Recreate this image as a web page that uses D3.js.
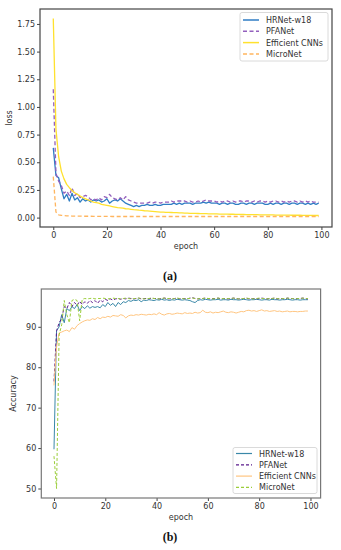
<!DOCTYPE html>
<html><head><meta charset="utf-8">
<script src="https://cdn.jsdelivr.net/npm/d3@7"></script>
<style>
html,body{margin:0;padding:0;background:#fff;}
svg{display:block;font-family:"DejaVu Sans",sans-serif;}
</style></head>
<body><svg id="c" width="341" height="550"></svg>
<script>
// ---------- DATA ----------
const seriesNames = ["HRNet-w18","PFANet","Efficient CNNs","MicroNet"];
const lossTicks = [0.00,0.25,0.50,0.75,1.00,1.25,1.50,1.75];
const accTicks = [50,60,70,80,90];
const epochTicks = [0,20,40,60,80,100];

const lossHRNet = [0.63,0.38,0.36,0.26,0.17,0.21,0.15,0.22,0.16,0.18,0.14,0.17,0.15,0.16,0.14,0.16,0.15,0.16,0.14,0.15,
0.17,0.13,0.15,0.16,0.15,0.17,0.15,0.13,0.12,0.11,0.10,0.11,0.10,0.11,0.11,0.12,0.11,0.11,0.12,0.11,
0.11,0.12,0.12,0.12,0.12,0.13,0.12,0.13,0.12,0.13,0.13,0.13,0.12,0.13,0.13,0.13,0.14,0.13,0.14,0.13,
0.13,0.13,0.12,0.13,0.13,0.12,0.13,0.13,0.12,0.12,0.13,0.13,0.12,0.13,0.13,0.12,0.13,0.13,0.13,0.12,
0.12,0.13,0.12,0.13,0.13,0.12,0.13,0.13,0.12,0.13,0.13,0.12,0.13,0.13,0.12,0.13,0.12,0.13,0.12,0.13];
const lossPFANet = [1.16,0.40,0.33,0.29,0.22,0.24,0.20,0.27,0.20,0.22,0.18,0.19,0.20,0.19,0.16,0.17,0.16,0.18,0.16,0.19,
0.18,0.21,0.18,0.17,0.16,0.18,0.16,0.19,0.16,0.15,0.14,0.13,0.13,0.13,0.13,0.13,0.14,0.13,0.14,0.14,
0.13,0.14,0.14,0.14,0.15,0.14,0.15,0.15,0.15,0.15,0.14,0.15,0.14,0.14,0.15,0.14,0.15,0.16,0.15,0.15,
0.15,0.14,0.15,0.14,0.15,0.15,0.14,0.15,0.14,0.15,0.15,0.14,0.15,0.15,0.14,0.15,0.14,0.15,0.15,0.14,
0.15,0.14,0.15,0.15,0.14,0.15,0.14,0.15,0.14,0.15,0.15,0.14,0.15,0.14,0.15,0.14,0.15,0.14,0.14,0.14];
const lossEfficient = [1.80,0.80,0.55,0.42,0.35,0.30,0.27,0.245,0.225,0.21,0.195,0.18,0.17,0.16,0.15,0.14,0.135,0.13,0.12,0.115,
0.11,0.105,0.10,0.095,0.09,0.088,0.085,0.08,0.078,0.075,0.072,0.07,0.067,0.065,0.062,0.06,0.058,0.056,0.054,0.052,
0.05,0.049,0.048,0.047,0.046,0.045,0.044,0.043,0.042,0.041,0.040,0.039,0.038,0.038,0.037,0.036,0.035,0.035,0.034,0.034,
0.033,0.033,0.032,0.032,0.031,0.031,0.030,0.030,0.029,0.029,0.028,0.028,0.027,0.027,0.027,0.026,0.026,0.025,0.025,0.025,
0.024,0.024,0.024,0.023,0.023,0.023,0.022,0.022,0.022,0.021,0.021,0.021,0.021,0.020,0.020,0.020,0.020,0.019,0.019,0.019];
const lossMicroNet = [0.37,0.05,0.025,0.02,0.018,0.016,0.015,0.014,0.014,0.013,0.013,0.012,0.012,0.012,0.012,0.011,0.011,0.011,0.011,0.011,
0.011,0.011,0.010,0.010,0.010,0.010,0.010,0.010,0.010,0.010,0.010,0.010,0.010,0.010,0.010,0.010,0.010,0.010,0.010,0.010,
0.010,0.010,0.010,0.010,0.010,0.010,0.010,0.010,0.010,0.010,0.010,0.010,0.010,0.010,0.010,0.010,0.010,0.010,0.010,0.010,
0.010,0.010,0.010,0.010,0.010,0.010,0.010,0.010,0.010,0.010,0.010,0.010,0.010,0.010,0.010,0.010,0.010,0.010,0.010,0.010,
0.010,0.010,0.010,0.010,0.010,0.010,0.010,0.010,0.010,0.010,0.010,0.010,0.010,0.010,0.010,0.010,0.010,0.010,0.010,0.010];

const accHRNet = [59.7,89.0,90.0,93.0,91.0,94.5,94.0,95.0,94.5,95.5,94.0,95.0,94.5,95.2,94.6,95.0,94.8,95.0,94.7,95.5,
95.0,96.0,95.3,95.8,95.0,96.0,95.5,96.2,96.0,96.5,96.3,96.6,96.5,96.7,96.2,96.6,96.5,96.7,96.6,96.5,
96.7,96.6,96.8,96.6,96.7,96.5,96.7,96.6,96.8,96.7,96.6,96.7,96.6,96.5,96.2,96.0,96.5,96.7,96.6,96.8,
96.7,96.6,96.7,96.7,96.8,96.6,96.7,96.7,96.6,96.8,96.7,96.7,96.6,96.7,96.8,96.7,96.6,96.7,96.7,96.8,
96.7,96.6,96.7,96.7,96.6,96.8,96.7,96.7,96.6,96.7,96.7,96.8,96.7,96.6,96.7,96.7,96.6,96.7,96.7,96.7];
const accPFANet = [76.5,89.0,91.0,92.0,95.0,94.5,96.0,95.0,96.0,95.3,96.3,95.5,96.2,95.8,96.5,96.0,96.5,95.8,96.6,96.2,
96.8,96.5,96.9,96.6,96.9,97.0,96.8,97.0,96.9,97.1,97.0,96.9,97.0,97.1,96.9,97.0,97.0,96.9,97.1,97.0,
97.0,96.9,97.0,97.1,97.0,96.9,97.0,97.0,97.1,96.9,97.0,97.0,96.9,97.1,97.2,97.0,96.9,97.0,97.0,97.1,
97.0,96.9,97.0,97.0,97.1,96.9,97.0,97.0,96.9,97.0,97.1,97.0,96.9,97.0,97.0,97.1,96.9,97.0,97.0,96.9,
97.0,97.1,97.0,96.9,97.0,97.0,97.1,96.9,97.0,97.0,96.9,97.1,97.0,97.0,96.9,97.0,97.0,97.1,97.0,96.9];
const accEfficient = [75.5,85.0,88.5,88.7,89.0,89.2,88.8,89.8,89.4,90.3,90.8,91.2,91.5,91.7,91.6,92.0,91.8,92.3,92.0,92.4,
92.3,92.6,92.4,92.8,92.7,92.6,93.0,92.8,92.2,92.7,92.9,92.8,93.0,92.9,93.1,93.0,92.9,93.1,93.0,93.2,
93.0,93.5,93.1,92.9,93.2,93.3,93.1,93.2,93.4,93.3,93.2,93.5,93.3,93.4,93.3,93.6,93.4,93.5,94.1,93.6,
93.5,93.7,93.4,93.6,93.5,93.7,93.9,93.6,93.5,93.7,93.6,93.4,93.6,93.8,93.7,94.0,94.1,93.9,94.0,93.8,
94.0,94.2,93.9,94.0,93.8,93.9,94.0,93.8,93.9,93.7,93.8,93.9,93.7,93.8,93.8,93.7,93.8,93.8,93.9,93.9];
const accMicroNet = [58.0,50.0,88.0,90.5,96.5,93.0,91.0,96.5,96.8,96.5,91.5,96.8,97.0,96.9,97.0,97.1,96.9,97.0,97.0,97.1,
97.0,96.9,97.0,97.1,97.0,97.0,96.9,97.0,97.1,97.0,96.9,97.0,97.0,97.1,97.0,96.9,97.0,97.0,97.1,97.0,
97.0,96.9,97.0,97.1,97.0,97.0,96.9,97.0,97.1,97.0,97.0,96.9,97.0,97.0,97.1,97.0,96.9,97.0,97.0,97.1,
97.0,97.0,96.9,97.0,97.1,97.0,97.0,96.9,97.0,97.0,97.1,97.0,96.9,97.0,97.0,97.1,97.0,97.0,96.9,97.0,
97.1,97.0,97.0,96.9,97.0,97.0,97.1,97.0,96.9,97.0,97.0,97.1,97.0,97.0,96.9,97.0,97.0,97.1,97.0,97.0];

// ---------- DRAW ----------
const svg = d3.select("#c");

function panel(cfg){
  const g = svg.append("g");
  const x = d3.scaleLinear().domain([-4.95,103.95]).range(cfg.xr);
  const y = d3.scaleLinear().domain(cfg.yd).range(cfg.yr);
  const clipId = "clip"+cfg.id;
  g.append("clipPath").attr("id",clipId).append("rect")
    .attr("x",cfg.xr[0]).attr("y",cfg.yr[1]).attr("width",cfg.xr[1]-cfg.xr[0]).attr("height",cfg.yr[0]-cfg.yr[1]);

  // axes
  const xa = g.append("g").attr("transform",`translate(0,${cfg.yr[0]})`)
    .call(d3.axisBottom(x).tickValues(epochTicks).tickFormat(d3.format("d")).tickSize(3).tickPadding(2));
  const ya = g.append("g").attr("transform",`translate(${cfg.xr[0]},0)`)
    .call(d3.axisLeft(y).tickValues(cfg.yt).tickFormat(cfg.yf).tickSize(3).tickPadding(2));
  [xa,ya].forEach(a=>{
    a.select(".domain").remove();
    a.selectAll("text").attr("font-size",8).attr("fill","#333").attr("font-family","DejaVu Sans");
    a.selectAll("line").attr("stroke","#444");
  });

  // lines
  const line = d3.line().x((d,i)=>x(i)).y(d=>y(d));
  const lg = g.append("g").attr("clip-path",`url(#${clipId})`);
  cfg.series.forEach(s=>{
    lg.append("path").datum(s.data).attr("d",line).attr("fill","none")
      .attr("stroke",s.color).attr("stroke-width",cfg.lw)
      .attr("stroke-dasharray",s.dash?cfg.dash:null).attr("stroke-linejoin","round");
  });

  // frame
  g.append("rect").attr("x",cfg.xr[0]).attr("y",cfg.yr[1])
    .attr("width",cfg.xr[1]-cfg.xr[0]).attr("height",cfg.yr[0]-cfg.yr[1])
    .attr("fill","none").attr("stroke",cfg.frame).attr("stroke-width",1.2);

  // labels
  g.append("text").attr("x",(cfg.xr[0]+cfg.xr[1])/2).attr("y",cfg.xlabY)
    .attr("text-anchor","middle").attr("font-size",8).attr("fill","#333").text("epoch");
  g.append("text").attr("transform",`translate(${cfg.ylabX},${(cfg.yr[0]+cfg.yr[1])/2}) rotate(-90)`)
    .attr("text-anchor","middle").attr("font-size",8).attr("fill","#333").text(cfg.ylab);

  // legend
  const L = cfg.leg;
  g.append("rect").attr("x",L.x).attr("y",L.y).attr("width",L.w).attr("height",L.h)
    .attr("rx",2).attr("fill","#fff").attr("fill-opacity",0.85).attr("stroke","#d0d0d0").attr("stroke-width",0.8);
  cfg.series.forEach((s,i)=>{
    const yy = L.y + L.first + i*L.step;
    g.append("line").attr("x1",L.x+3).attr("x2",L.x+19).attr("y1",yy).attr("y2",yy)
      .attr("stroke",s.color).attr("stroke-width",cfg.lw+0.2).attr("stroke-dasharray",s.dash?cfg.dash:null);
    g.append("text").attr("x",L.x+26).attr("y",yy+3).attr("font-size",8).attr("fill","#333").text(seriesNames[i]);
  });

  svg.append("text").attr("x",170).attr("y",cfg.capY).attr("text-anchor","middle")
    .attr("font-family","Liberation Serif, serif").attr("font-weight","bold").attr("font-size",12)
    .attr("fill","#111").text(cfg.cap);
}

panel({
  id:"a", xr:[40,332], yr:[227,9], yd:[-0.085,1.885], yt:lossTicks, yf:d3.format(".2f"),
  lw:1.3, dash:"4,2.5", frame:"#444", xlabY:249, ylabX:12, ylab:"loss",
  leg:{x:240,y:12.5,w:88,h:48.5,first:7.5,step:11.3},
  series:[
    {data:lossHRNet,color:"#2f7dc4",dash:false},
    {data:lossPFANet,color:"#9360bd",dash:true},
    {data:lossEfficient,color:"#ffe12e",dash:false},
    {data:lossMicroNet,color:"#ffb55e",dash:true}
  ],
  cap:"(a)", capY:280
});

panel({
  id:"b", xr:[41.3,320.6], yr:[498,289], yd:[47.65,99.35], yt:accTicks, yf:d3.format("d"),
  lw:1.0, dash:"3,2", frame:"#777", xlabY:520, ylabX:16, ylab:"Accuracy",
  leg:{x:233,y:447.5,w:84,h:46,first:6,step:11.3},
  series:[
    {data:accHRNet,color:"#3a88a8",dash:false},
    {data:accPFANet,color:"#5a1a8c",dash:true},
    {data:accEfficient,color:"#ffc580",dash:false},
    {data:accMicroNet,color:"#9acd3a",dash:true}
  ],
  cap:"(b)", capY:541
});
</script></body></html>
